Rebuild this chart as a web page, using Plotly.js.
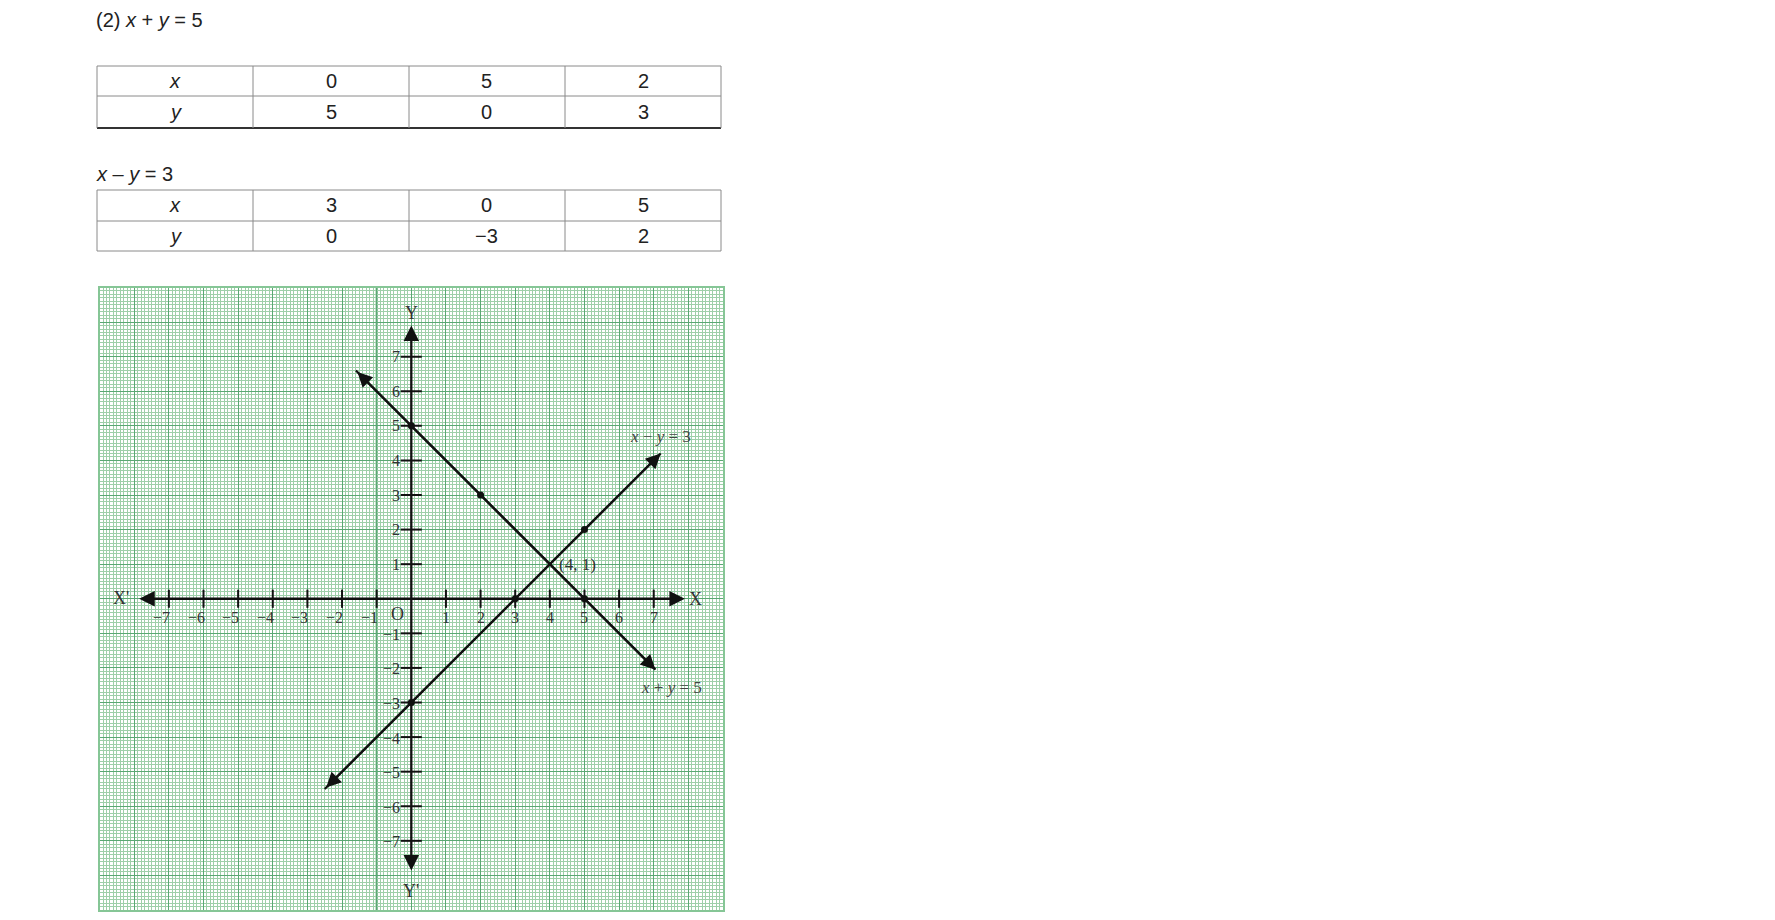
<!DOCTYPE html>
<html>
<head>
<meta charset="utf-8">
<script src="https://cdn.plot.ly/plotly-3.0.1.min.js"></script>
<style>
html,body{margin:0;padding:0;background:#fff;}
#chart{width:1775px;height:920px;}
</style>
</head>
<body>
<div id="chart"></div>
<script>
// ---------- data ----------
const heading1 = '(2) <i>x</i> + <i>y</i> = 5';
const heading2 = '<i>x</i> – <i>y</i> = 3';
const rowLabels = ['<i>x</i>', '<i>y</i>'];

const eq1X = [0, 5, 2];
const eq1Y = [5, 0, 3];
const eq2X = [3, 0, 5];
const eq2Y = [0, -3, 2];

// arrow tips of the two drawn lines
const eq1EndsX = [-1.6, 7.05];
const eq1EndsY = [6.6, -2.05];
const eq2EndsX = [-2.5, 7.2];
const eq2EndsY = [-5.5, 4.2];

const xTicks = [-7, -6, -5, -4, -3, -2, -1, 1, 2, 3, 4, 5, 6, 7];
const xTickLabels = ['−7', '−6', '−5', '−4', '−3', '−2', '−1', '1', '2', '3', '4', '5', '6', '7'];
const yTicks = [7, 6, 5, 4, 3, 2, 1, -1, -2, -3, -4, -5, -6, -7];
const yTickLabels = ['7', '6', '5', '4', '3', '2', '1', '−1', '−2', '−3', '−4', '−5', '−6', '−7'];

const axisEnds = [-7.9, 7.9];
const intersection = {x: 4, y: 1, label: '(4, 1)'};
const eq1Label = '<i>x</i> + <i>y</i> = 5';
const eq2Label = '<i>x</i> − <i>y</i> = 3';
const accentGridX = [-1];

// ---------- helpers ----------
const W = 1775, H = 920;
const px = v => v / W;
const py = v => 1 - v / H;
const fmt = v => (v < 0 ? '−' + Math.abs(v) : String(v));

function sortedLine(ptsX, ptsY, endsX, endsY) {
  const pts = ptsX.map((x, i) => [x, ptsY[i]]).concat(endsX.map((x, i) => [x, endsY[i]]));
  pts.sort((a, b) => a[0] - b[0]);
  return {x: pts.map(p => p[0]), y: pts.map(p => p[1])};
}

const sansFont = {family: 'Liberation Sans, Arial, sans-serif', size: 20, color: '#222'};
const serif = 'Liberation Serif, Times New Roman, serif';
const graphText = '#333';

const ann = [];
const shapes = [];

// ---------- tables (drawn with paper-space lines and text) ----------
const colEdges = [97, 253, 409, 565, 721];
function drawTable(xs, ys, rowEdges, heavyBottom) {
  const rows = [[rowLabels[0]].concat(xs.map(fmt)), [rowLabels[1]].concat(ys.map(fmt))];
  rowEdges.forEach((r, i) => {
    const heavy = heavyBottom && i === rowEdges.length - 1;
    shapes.push({type: 'line', xref: 'paper', yref: 'paper',
      x0: px(colEdges[0]), x1: px(colEdges[colEdges.length - 1]), y0: py(r), y1: py(r),
      line: {color: heavy ? '#333' : '#8a8a8a', width: heavy ? 2 : 1}});
  });
  colEdges.forEach(c => {
    shapes.push({type: 'line', xref: 'paper', yref: 'paper', x0: px(c), x1: px(c),
      y0: py(rowEdges[0]), y1: py(rowEdges[rowEdges.length - 1]),
      line: {color: '#8a8a8a', width: 1}});
  });
  rows.forEach((row, ri) => {
    const yc = (rowEdges[ri] + rowEdges[ri + 1]) / 2;
    row.forEach((txt, ci) => {
      const xc = (colEdges[ci] + colEdges[ci + 1]) / 2;
      ann.push({xref: 'paper', yref: 'paper', x: px(xc), y: py(yc), xanchor: 'center', yanchor: 'middle',
        text: txt, showarrow: false, font: sansFont});
    });
  });
}
drawTable(eq1X, eq1Y, [66, 96, 128], true);
drawTable(eq2X, eq2Y, [190, 221, 251], false);

// ---------- traces ----------
const traces = [];
const l1 = sortedLine(eq1X, eq1Y, eq1EndsX, eq1EndsY);
const l2 = sortedLine(eq2X, eq2Y, eq2EndsX, eq2EndsY);

traces.push({type: 'scatter', mode: 'lines', x: l1.x, y: l1.y,
  line: {color: '#111', width: 2.2}, hoverinfo: 'skip', showlegend: false});
traces.push({type: 'scatter', mode: 'lines', x: l2.x, y: l2.y,
  line: {color: '#111', width: 2.2}, hoverinfo: 'skip', showlegend: false});

// axis tick marks
traces.push({type: 'scatter', mode: 'markers', x: xTicks, y: xTicks.map(() => 0),
  marker: {symbol: 'line-ns', size: 13, line: {color: '#111', width: 2}},
  hoverinfo: 'skip', showlegend: false});
traces.push({type: 'scatter', mode: 'markers', x: yTicks.map(() => 0), y: yTicks,
  marker: {symbol: 'line-ew', size: 15, line: {color: '#111', width: 2}},
  hoverinfo: 'skip', showlegend: false});

// plotted points
traces.push({type: 'scatter', mode: 'markers', x: eq1X, y: eq1Y,
  marker: {color: '#111', size: 7}, hoverinfo: 'skip', showlegend: false});
traces.push({type: 'scatter', mode: 'markers', x: eq2X, y: eq2Y,
  marker: {color: '#111', size: 7}, hoverinfo: 'skip', showlegend: false});

// ---------- annotations ----------
ann.push({xref: 'paper', yref: 'paper', x: px(94), y: py(20), xanchor: 'left', yanchor: 'middle',
  text: heading1, showarrow: false, font: sansFont});
ann.push({xref: 'paper', yref: 'paper', x: px(94), y: py(174), xanchor: 'left', yanchor: 'middle',
  text: heading2, showarrow: false, font: sansFont});

function arrow(x0, y0, x1, y1, w) {
  return {xref: 'x', yref: 'y', axref: 'x', ayref: 'y', x: x1, y: y1, ax: x0, ay: y0,
    text: '', showarrow: true, arrowhead: 2, arrowside: 'end+start', arrowsize: 1.35,
    arrowwidth: w, arrowcolor: '#111', standoff: 0, startstandoff: 0};
}
ann.push(arrow(axisEnds[0], 0, axisEnds[1], 0, 2.3));
ann.push(arrow(0, axisEnds[0], 0, axisEnds[1], 2.3));
ann.push(arrow(eq1EndsX[0], eq1EndsY[0], eq1EndsX[1], eq1EndsY[1], 2.2));
ann.push(arrow(eq2EndsX[0], eq2EndsY[0], eq2EndsX[1], eq2EndsY[1], 2.2));

const tickFont = {family: serif, size: 16, color: graphText};
xTicks.forEach((t, i) => {
  ann.push({xref: 'x', yref: 'y', x: t, y: 0, yshift: -19, xshift: t < 0 ? 3 : 0,
    xanchor: t < 0 ? 'right' : 'center', yanchor: 'middle',
    text: xTickLabels[i], showarrow: false, font: tickFont});
});
yTicks.forEach((t, i) => {
  ann.push({xref: 'x', yref: 'y', x: 0, y: t, xshift: -9, yshift: t < 0 ? -1 : 0,
    xanchor: 'right', yanchor: 'middle',
    text: yTickLabels[i], showarrow: false, font: tickFont});
});
const bigFont = {family: serif, size: 18, color: graphText};
ann.push({xref: 'x', yref: 'y', x: 0, y: 0, xshift: -14, yshift: -15, text: 'O',
  showarrow: false, font: bigFont});
ann.push({xref: 'x', yref: 'y', x: -8.38, y: 0, yshift: 1, text: "X'", showarrow: false, font: bigFont});
ann.push({xref: 'x', yref: 'y', x: 8.22, y: 0, text: 'X', showarrow: false, font: bigFont});
ann.push({xref: 'x', yref: 'y', x: 0, y: 8.27, text: 'Y', showarrow: false, font: bigFont});
ann.push({xref: 'x', yref: 'y', x: 0, y: -8.45, text: "Y'", showarrow: false, font: bigFont});

ann.push({xref: 'x', yref: 'y', x: intersection.x, y: intersection.y, xshift: 7, xanchor: 'left',
  yanchor: 'middle', text: intersection.label, showarrow: false, font: {family: serif, size: 17, color: graphText}});
ann.push({xref: 'x', yref: 'y', x: 7.19, y: 4.68, text: eq2Label, showarrow: false,
  font: {family: serif, size: 17, color: '#444'}});
ann.push({xref: 'x', yref: 'y', x: 7.52, y: -2.57, text: eq1Label, showarrow: false,
  font: {family: serif, size: 17, color: '#444'}});

// ---------- graph-paper accent line ----------
accentGridX.forEach(v => shapes.push({type: 'line', xref: 'x', yref: 'y', x0: v, x1: v, y0: -9, y1: 9,
  line: {color: '#4f9e68', width: 2}, layer: 'below'}));

const gridAxis = (domain) => ({
  domain: domain, range: [-9, 9], dtick: 1, tick0: 0,
  showgrid: true, gridcolor: '#5aa873', gridwidth: 1,
  minor: {dtick: 0.1, showgrid: true, gridcolor: '#9ecfa9', gridwidth: 1, ticks: ''},
  zeroline: false, showticklabels: false, ticks: '',
  showline: true, linecolor: '#86c696', linewidth: 2, mirror: true, fixedrange: true
});

const layout = {
  width: W, height: H,
  margin: {l: 0, r: 0, t: 0, b: 0},
  paper_bgcolor: '#ffffff', plot_bgcolor: '#ffffff',
  showlegend: false,
  xaxis: gridAxis([px(99.6), px(723)]),
  yaxis: gridAxis([1 - 910 / H, 1 - 287.5 / H]),
  annotations: ann,
  shapes: shapes,
  hovermode: false
};

Plotly.newPlot('chart', traces, layout, {displayModeBar: false, staticPlot: true});
</script>
</body>
</html>
